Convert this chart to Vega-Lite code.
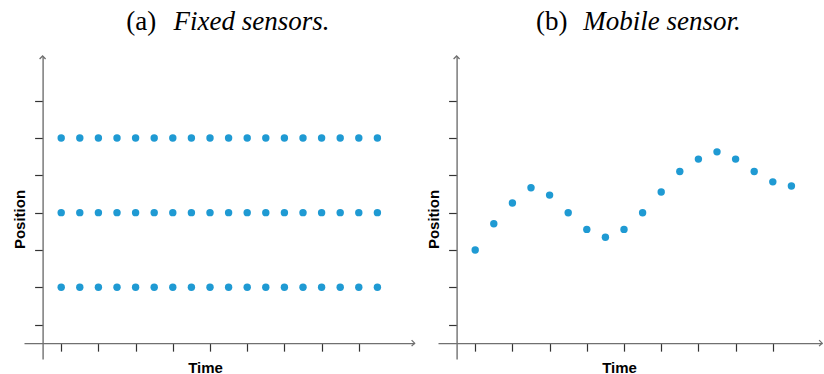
{
  "$schema": "https://vega.github.io/schema/vega-lite/v6.json",
  "background": "white",
  "autosize": {"type": "pad"},
  "padding": {"left": 12, "top": 8, "right": 0, "bottom": 0},
  "spacing": 23,
  "bounds": "flush",
  "config": {
    "view": {"stroke": null},
    "axis": {
      "labels": false,
      "grid": false,
      "ticks": true,
      "tickSize": 8,
      "tickColor": "#333333",
      "tickWidth": 1.2,
      "domain": true,
      "domainColor": "#707070",
      "domainWidth": 1.4,
      "titleFont": "Liberation Sans",
      "titleFontWeight": "bold",
      "titleFontSize": 15,
      "titleColor": "black",
      "titleBaseline": "alphabetic",
      "titleAlign": "center"
    },
    "title": {
      "font": "Liberation Serif",
      "fontSize": 27,
      "fontWeight": "normal",
      "fontStyle": "normal",
      "color": "black",
      "subtitleFont": "Liberation Serif",
      "subtitleFontSize": 27,
      "subtitleFontStyle": "italic",
      "subtitleFontWeight": "normal",
      "subtitleColor": "black",
      "anchor": "middle",
      "baseline": "top",
      "subtitlePadding": -27,
      "offset": 17
    }
  },
  "datasets": {
    "fixed": [
      {"t": 1, "pos": 3}, {"t": 2, "pos": 3}, {"t": 3, "pos": 3}, {"t": 4, "pos": 3}, {"t": 5, "pos": 3}, {"t": 6, "pos": 3},
      {"t": 7, "pos": 3}, {"t": 8, "pos": 3}, {"t": 9, "pos": 3}, {"t": 10, "pos": 3}, {"t": 11, "pos": 3}, {"t": 12, "pos": 3},
      {"t": 13, "pos": 3}, {"t": 14, "pos": 3}, {"t": 15, "pos": 3}, {"t": 16, "pos": 3}, {"t": 17, "pos": 3}, {"t": 18, "pos": 3},
      {"t": 1, "pos": 7}, {"t": 2, "pos": 7}, {"t": 3, "pos": 7}, {"t": 4, "pos": 7}, {"t": 5, "pos": 7}, {"t": 6, "pos": 7},
      {"t": 7, "pos": 7}, {"t": 8, "pos": 7}, {"t": 9, "pos": 7}, {"t": 10, "pos": 7}, {"t": 11, "pos": 7}, {"t": 12, "pos": 7},
      {"t": 13, "pos": 7}, {"t": 14, "pos": 7}, {"t": 15, "pos": 7}, {"t": 16, "pos": 7}, {"t": 17, "pos": 7}, {"t": 18, "pos": 7},
      {"t": 1, "pos": 11}, {"t": 2, "pos": 11}, {"t": 3, "pos": 11}, {"t": 4, "pos": 11}, {"t": 5, "pos": 11}, {"t": 6, "pos": 11},
      {"t": 7, "pos": 11}, {"t": 8, "pos": 11}, {"t": 9, "pos": 11}, {"t": 10, "pos": 11}, {"t": 11, "pos": 11}, {"t": 12, "pos": 11},
      {"t": 13, "pos": 11}, {"t": 14, "pos": 11}, {"t": 15, "pos": 11}, {"t": 16, "pos": 11}, {"t": 17, "pos": 11}, {"t": 18, "pos": 11}
    ],
    "mobile": [
      {"t": 1, "pos": 5.0}, {"t": 2, "pos": 6.4}, {"t": 3, "pos": 7.52}, {"t": 4, "pos": 8.33}, {"t": 5, "pos": 7.94},
      {"t": 6, "pos": 6.99}, {"t": 7, "pos": 6.1}, {"t": 8, "pos": 5.68}, {"t": 9, "pos": 6.1}, {"t": 10, "pos": 6.99},
      {"t": 11, "pos": 8.11}, {"t": 12, "pos": 9.21}, {"t": 13, "pos": 9.87}, {"t": 14, "pos": 10.26}, {"t": 15, "pos": 9.87},
      {"t": 16, "pos": 9.21}, {"t": 17, "pos": 8.65}, {"t": 18, "pos": 8.43}
    ],
    "arrows": [
      {"panel": "a", "x": 0, "y": 15.4, "dir": "up"},
      {"panel": "a", "x": 20, "y": 0, "dir": "right"},
      {"panel": "b", "x": 0, "y": 15.4, "dir": "up"},
      {"panel": "b", "x": 19.65, "y": 0, "dir": "right"}
    ]
  },
  "hconcat": [
    {
      "width": 390.6,
      "height": 303,
      "title": {"text": "(a)", "subtitle": "\u200b\u00a0\u00a0\u00a0\u00a0\u00a0\u00a0\u00a0Fixed sensors.", "align": "left", "dx": -93},
      "layer": [
        {
          "data": {"name": "fixed"},
          "mark": {"type": "circle", "size": 55, "color": "#1f9ad3", "opacity": 1},
          "encoding": {
            "x": {"field": "t", "type": "quantitative",
                  "scale": {"domain": [-1, 20], "nice": false, "zero": false},
                  "axis": {"values": [1, 3, 5, 7, 9, 11, 13, 15, 17], "offset": -15.85, "title": "Time", "titleX": 181, "titleY": 29}},
            "y": {"field": "pos", "type": "quantitative",
                  "scale": {"domain": [-0.85, 15.4], "nice": false, "zero": false},
                  "axis": {"values": [1, 3, 5, 7, 9, 11, 13], "offset": -18.6, "title": "Position", "titleX": -18, "titleY": 163, "titleAngle": -90}}
          }
        },
        {
          "data": {"name": "arrows"},
          "transform": [{"filter": "datum.panel === 'a'"}],
          "mark": {"type": "point", "filled": false, "stroke": "#707070", "strokeWidth": 1.3, "size": 36, "opacity": 1},
          "encoding": {
            "x": {"field": "x", "type": "quantitative"},
            "y": {"field": "y", "type": "quantitative"},
            "shape": {"field": "dir", "type": "nominal", "legend": null,
                      "scale": {"domain": ["up", "right"], "range": ["M-1,1L0,0L1,1", "M-1,-1L0,0L-1,1"]}}
          }
        }
      ]
    },
    {
      "width": 384.1,
      "height": 303,
      "title": {"text": "(b)", "subtitle": "\u200b\u00a0\u00a0\u00a0\u00a0\u00a0\u00a0\u00a0Mobile sensor.", "align": "left", "dx": -94},
      "layer": [
        {
          "data": {"name": "mobile"},
          "mark": {"type": "circle", "size": 55, "color": "#1f9ad3", "opacity": 1},
          "encoding": {
            "x": {"field": "t", "type": "quantitative",
                  "scale": {"domain": [-1, 19.65], "nice": false, "zero": false},
                  "axis": {"values": [1, 3, 5, 7, 9, 11, 13, 15, 17], "offset": -15.85, "title": "Time", "titleX": 181, "titleY": 29}},
            "y": {"field": "pos", "type": "quantitative",
                  "scale": {"domain": [-0.85, 15.4], "nice": false, "zero": false},
                  "axis": {"values": [1, 3, 5, 7, 9, 11, 13], "offset": -18.6, "title": "Position", "titleX": -18, "titleY": 163, "titleAngle": -90}}
          }
        },
        {
          "data": {"name": "arrows"},
          "transform": [{"filter": "datum.panel === 'b'"}],
          "mark": {"type": "point", "filled": false, "stroke": "#707070", "strokeWidth": 1.3, "size": 36, "opacity": 1},
          "encoding": {
            "x": {"field": "x", "type": "quantitative"},
            "y": {"field": "y", "type": "quantitative"},
            "shape": {"field": "dir", "type": "nominal", "legend": null,
                      "scale": {"domain": ["up", "right"], "range": ["M-1,1L0,0L1,1", "M-1,-1L0,0L-1,1"]}}
          }
        }
      ]
    }
  ]
}
